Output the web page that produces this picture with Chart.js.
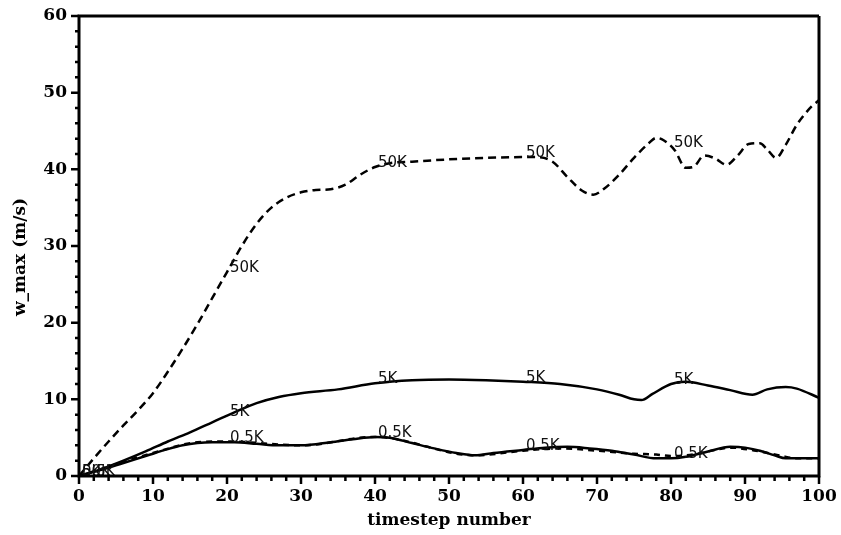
<!DOCTYPE html>
<html>
<head>
<meta charset="utf-8">
<script src="https://cdn.jsdelivr.net/npm/chart.js@4.4.1/dist/chart.umd.min.js"></script>
<style>
  html, body { margin: 0; padding: 0; background: #fff; }
  #wrap { width: 841px; height: 535px; }
</style>
</head>
<body>
<div id="wrap"><canvas id="wmax" width="841" height="535"></canvas></div>
<script>
// w_max per timestep, one run per perturbation amplitude
const steps50K = [0, 2, 4, 6, 8, 10, 12, 14, 16, 18, 20, 22, 24, 26, 28, 30, 32, 34, 36, 38, 40, 42, 45, 50, 55, 60, 62, 64, 66, 68, 69.5, 71, 73, 75, 77, 78, 79, 80.5, 82, 83, 84.5, 86, 87.5, 89, 90.5, 92, 93, 94.2, 95.5, 97, 99, 100];
const wmax50K  = [0, 2.3, 4.5, 6.6, 8.6, 10.8, 13.6, 16.6, 19.8, 23.2, 26.6, 30.0, 32.9, 35.0, 36.3, 37.0, 37.3, 37.4, 38.0, 39.3, 40.3, 40.8, 41.0, 41.3, 41.5, 41.6, 41.6, 41.0, 39.0, 37.2, 36.7, 37.5, 39.3, 41.5, 43.4, 44.1, 43.8, 42.5, 40.2, 40.3, 41.8, 41.4, 40.6, 41.8, 43.3, 43.4, 42.6, 41.5, 43.2, 45.8, 48.2, 49.0];

const steps5K = [0, 3, 6, 9, 12, 15, 18, 21, 24, 27, 30, 35, 40, 45, 50, 55, 60, 65, 70, 73, 75, 76, 77.5, 80, 82, 85, 88, 91, 93, 95.5, 97, 100];
const wmax5K  = [0, 0.9, 2.0, 3.2, 4.5, 5.7, 7.0, 8.3, 9.5, 10.3, 10.8, 11.3, 12.1, 12.5, 12.6, 12.5, 12.3, 12.0, 11.3, 10.6, 10.0, 9.9, 10.7, 12.0, 12.3, 11.8, 11.2, 10.6, 11.3, 11.6, 11.4, 10.2];

const steps05K = [0, 3, 6, 9, 12, 14, 16, 18, 21, 24, 27, 30, 34, 37, 40, 42, 45, 48, 51, 53.5, 56, 60, 63, 66, 69, 72, 75, 78, 80, 82, 85, 88, 90, 92, 94, 95.5, 100];
const wmax05K  = [0, 0.8, 1.7, 2.6, 3.5, 4.0, 4.3, 4.4, 4.4, 4.2, 4.0, 4.0, 4.4, 4.8, 5.1, 5.0, 4.3, 3.6, 3.0, 2.7, 3.0, 3.4, 3.7, 3.8, 3.6, 3.3, 2.8, 2.3, 2.3, 2.5, 3.2, 3.8, 3.7, 3.3, 2.7, 2.3, 2.3];

// second 0.5K run, drawn dashed, almost on top of the first
const steps05Kb = [0, 10, 16, 20, 30, 40, 53.5, 60, 65, 70, 75, 78, 80, 83, 86, 88, 92, 95, 97, 100];
const wmax05Kb  = [0, 3.0, 4.4, 4.5, 4.0, 5.1, 2.7, 3.3, 3.6, 3.3, 2.9, 2.8, 2.6, 2.8, 3.4, 3.7, 3.2, 2.6, 2.3, 2.3];

const labelSteps = [0, 20, 40, 60, 80];
const xTicks = [0, 10, 20, 30, 40, 50, 60, 70, 80, 90, 100];
const yTicks = [0, 10, 20, 30, 40, 50, 60];

const toXY = (xs, ys) => xs.map((x, i) => ({ x, y: ys[i] }));

function valueAt(xs, ys, x) {
  for (let i = 1; i < xs.length; i++) {
    if (x <= xs[i]) {
      const t = (x - xs[i - 1]) / (xs[i] - xs[i - 1]);
      return ys[i - 1] + t * (ys[i] - ys[i - 1]);
    }
  }
  return ys[ys.length - 1];
}

const series = [
  { name: '50K',  xs: steps50K,  ys: wmax50K,  dash: [8, 5], labelled: true },
  { name: '5K',   xs: steps5K,   ys: wmax5K,   dash: [],     labelled: true },
  { name: '0.5K', xs: steps05Kb, ys: wmax05Kb, dash: [6, 5], labelled: false },
  { name: '0.5K', xs: steps05K,  ys: wmax05K,  dash: [],     labelled: true }
];

const serif = "'DejaVu Serif', serif";

// frame, axis lines, tick marks (major every 10, minor every 2) and y title
const framePlugin = {
  id: 'frame',
  afterDraw(chart) {
    const { ctx, chartArea: a, scales: { x, y } } = chart;
    ctx.save();
    ctx.strokeStyle = '#000';
    ctx.lineCap = 'butt';
    ctx.lineWidth = 3;
    ctx.beginPath();
    ctx.moveTo(a.left, a.top); ctx.lineTo(a.right, a.top);
    ctx.moveTo(a.right, a.top); ctx.lineTo(a.right, a.bottom + 1.5);
    ctx.moveTo(a.left, a.top - 1.5); ctx.lineTo(a.left, a.bottom + 1.5);
    ctx.moveTo(a.left - 1.5, a.bottom); ctx.lineTo(a.right + 1.5, a.bottom);
    ctx.stroke();

    ctx.lineWidth = 2.5;
    ctx.beginPath();
    for (let v = 0; v <= 100; v += 2) {
      const px = x.getPixelForValue(v);
      const len = v % 10 === 0 ? 8 : 5;
      ctx.moveTo(px, a.bottom); ctx.lineTo(px, a.bottom + len);
    }
    for (let v = 0; v <= 60; v += 2) {
      const py = y.getPixelForValue(v);
      const len = v % 10 === 0 ? 8 : 4;
      ctx.moveTo(a.left, py); ctx.lineTo(a.left - len, py);
    }
    ctx.stroke();

    ctx.translate(21, (a.top + a.bottom) / 2 + 11);
    ctx.rotate(-Math.PI / 2);
    ctx.font = `bold 17px ${serif}`;
    ctx.fillStyle = '#000';
    ctx.textAlign = 'center';
    ctx.textBaseline = 'middle';
    ctx.fillText('w_max (m/s)', 0, 0);
    ctx.restore();
  }
};

// inline run labels along each curve
const curveLabels = {
  id: 'curveLabels',
  afterDatasetsDraw(chart) {
    const { ctx, scales: { x, y } } = chart;
    ctx.save();
    ctx.font = "15px 'DejaVu Sans', sans-serif";
    ctx.fillStyle = '#111';
    ctx.textAlign = 'left';
    ctx.textBaseline = 'middle';
    series.filter(s => s.labelled).forEach(s => {
      labelSteps.forEach(lx => {
        const px = x.getPixelForValue(lx);
        const py = y.getPixelForValue(valueAt(s.xs, s.ys, lx));
        ctx.fillText(s.name, px + 3, py - 4);
      });
    });
    ctx.restore();
  }
};

new Chart(document.getElementById('wmax'), {
  type: 'line',
  data: {
    datasets: series.map(s => ({
      label: s.name,
      data: toXY(s.xs, s.ys),
      borderColor: '#000',
      borderWidth: 2.5,
      borderDash: s.dash,
      pointRadius: 0,
      fill: false,
      cubicInterpolationMode: 'monotone'
    }))
  },
  options: {
    responsive: false,
    animation: false,
    layout: { padding: { top: 16, right: 22, left: 0, bottom: 0 } },
    plugins: { legend: { display: false }, tooltip: { enabled: false } },
    scales: {
      x: {
        type: 'linear',
        min: 0, max: 100,
        afterFit: sc => { sc.height = 59; sc.paddingLeft = 0; sc.paddingRight = 0; },
        afterBuildTicks: sc => { sc.ticks = xTicks.map(v => ({ value: v })); },
        grid: { display: true, drawOnChartArea: false, drawTicks: false, color: 'rgba(0,0,0,0)' },
        border: { display: false },
        ticks: { padding: 10, color: '#000', maxRotation: 0, font: { family: serif, size: 17, weight: 'bold' } },
        title: { display: true, text: 'timestep number', color: '#000', padding: { top: 4, bottom: 4 },
                 font: { family: serif, size: 17, weight: 'bold' } }
      },
      y: {
        type: 'linear',
        min: 0, max: 60,
        afterFit: sc => { sc.width = 79; sc.paddingTop = 0; sc.paddingBottom = 0; },
        afterBuildTicks: sc => { sc.ticks = yTicks.map(v => ({ value: v })); },
        grid: { display: true, drawOnChartArea: false, drawTicks: false, color: 'rgba(0,0,0,0)' },
        border: { display: false },
        ticks: { padding: 12, color: '#000', font: { family: serif, size: 17, weight: 'bold' } }
      }
    }
  },
  plugins: [framePlugin, curveLabels]
});
</script>
</body>
</html>
